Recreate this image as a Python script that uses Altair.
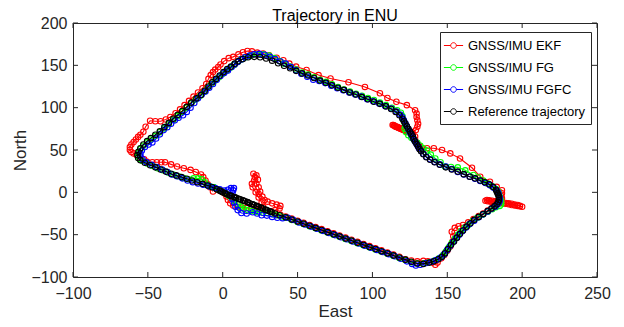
import altair as alt
import pandas as pd

title_text = "Trajectory in ENU"
series_names = ["GNSS/IMU EKF", "GNSS/IMU FG", "GNSS/IMU FGFC", "Reference trajectory"]
series_colors = ["#ff0000", "#00ff00", "#0000ff", "#000000"]
x_ticks = [-100, -50, 0, 50, 100, 150, 200, 250]
y_ticks = [-100, -50, 0, 50, 100, 150, 200]

ekf_pts = [(-4,4),(-1,1.5),(1,-1),(2.5,-5),(3.5,-9),(5,-13),(7,-15.5),(10,-17),(13,-18),(16,-18.5),(19,-19),(22,-19.5),(25,-20),(27,-17),(26,-12),(24,-6),(22,0),(20,6),(19.5,10),(21,14),(21.5,18),(20.5,22),(22.5,20),(23.5,15),(22.5,10),(24,6),(25,1),(24,-2),(26.5,-5),(28,-9),(30,-11),(33,-13),(36,-14.5),(38.5,-16),(38,-19),(35,-21),(32,-22.5),(35,-25),(38.5,-26.5),(42,-28.5),(46,-31),(50,-33.5),(54,-36),(58,-38.5),(62,-41),(66,-43.5),(70,-46),(74,-48.5),(78,-51),(82,-53.5),(86,-56),(90,-58.5),(94,-61),(98,-63.5),(102,-66),(106,-68.5),(110,-71),(114,-73.5),(118,-76),(122,-79),(126,-80.5),(130,-81.5),(134,-81),(137,-81.5),(140,-83),(142,-85.5),(143.5,-83),(146,-78),(148,-74),(150,-69),(152,-64),(153.5,-58),(154,-52),(153,-46.5),(155,-42),(157.5,-40),(160.5,-38.5),(164,-35.5),(167.5,-31.5),(171,-28),(174,-25),(177,-21.5),(180,-18.5),(182.5,-15),(184,-12),(182,-10.5),(180,-10),(178,-9.5),(176.5,-9),(175.5,-10),(177,-10.5),(179,-11),(181,-11.5),(183,-11.5),(185,-12),(187,-12.5),(189,-12.5),(191,-13),(193,-13.5),(195,-14.5),(197,-15),(198.5,-16),(200,-17),(198.5,-16.5),(197,-16),(195,-15.5),(193,-15),(191,-14),(189,-13.5),(187.5,-13),(186,-10),(186.5,-7),(186,-4),(186.5,-1),(186.5,2.5),(183,6.5),(178.5,12.5),(172,18.5),(166.5,29),(158.5,40),(152,46),(146.5,50),(141,52),(136.5,52),(131,55.5),(129.5,58.5),(128.5,62),(128.5,66),(127,69.5),(125,70.5),(123.5,71.5),(122.5,72.5),(121.5,73),(120.5,74),(119.5,74.5),(118.5,75.5),(117.5,76),(116.5,77),(115.5,77.5),(114.5,78.5),(113.5,79.5),(114,79.5),(115,78.5),(116,77.5),(117,77),(118,76),(119,75),(120,74.5),(121,73.5),(122,73),(123.5,71.5),(126.5,71),(129,73.5),(130,77.5),(130.5,81),(130,85),(129.5,89),(129.5,93),(128.5,97),(123,103),(116,107),(110,111.5),(105,117),(95,124.5),(84,130),(72,134.5),(64,138.5),(56,144.5),(49,148.5),(44.5,152),(40.5,156),(36,159),(31,162),(27,164),(23,165),(19.5,166.5),(16.5,167),(13.5,165.5),(10.5,163),(7,160),(4,158.5),(1,155),(-1.5,151),(-3,148),(-5,145),(-6.5,142),(-8,138.5),(-9.5,134),(-11,128),(-13.5,123),(-16.5,118),(-19.5,113),(-22.5,108),(-25.5,103),(-28.5,98),(-31.5,93.5),(-35,89),(-38,86),(-41.5,84),(-45,84),(-48.5,84.5),(-51.5,77.5),(-53,71.5),(-55,68),(-56.5,65.5),(-58,62.5),(-59.5,59.5),(-61,56.5),(-62,53.5),(-62,50),(-61,47.5),(-59.5,46),(-57.5,44),(-55,42),(-52.5,39),(-50.5,36),(-47,35.5),(-44,35.5),(-41,35.5),(-38.5,35.5),(-34.5,33),(-30.5,30.5),(-26,28.5),(-21.5,26.5),(-18,24),(-14.5,21),(-13,18),(-11.5,14),(-10,9.5),(-8.5,6),(-6.5,1)]

fg_pts = [(-6,6),(-3,3),(0,0.5),(2,-1.5),(4,-4),(6,-7),(8,-10.5),(10,-14),(12,-17),(14,-19.5),(16.5,-21),(19,-22),(21.5,-23),(24,-23.5),(27,-24),(30,-24.5),(33,-25.5),(36,-27),(39,-28.5),(42,-30),(46,-32.5),(50,-35),(54,-37.5),(58,-40),(62,-42.5),(66,-45),(70,-47.5),(74,-50),(78,-52.5),(82,-55),(86,-57.5),(90,-60),(94,-62.5),(98,-65),(102,-67.5),(106,-70),(110,-72.5),(114,-75),(118,-77.5),(122,-80),(126,-82.5),(130,-84),(134,-84),(138,-82.5),(141.5,-80.5),(144.5,-78),(147,-74.5),(149,-70),(151,-65),(153,-60),(155,-55),(157,-50),(159,-46),(161.5,-42),(164,-38.5),(167,-34),(170,-30),(173.5,-26.5),(177,-23),(180,-20),(182.5,-17.5),(185,-16),(186,-14),(186,-11),(185.5,-8),(185,-5),(184.5,-2),(184,1),(182.5,4),(180,7),(177,10.5),(174,14),(170.5,17.5),(167.5,20.5),(162,26),(157,29.5),(152.5,30),(148.5,30.5),(145.5,35.5),(142,40),(139,44.5),(136.5,49.5),(134,52),(132,55),(130,58.5),(128,61.5),(126,64.5),(124,67.5),(122.5,71),(121.5,75),(122,78),(121.5,82),(120.5,86),(120,90),(119,94),(116.5,97),(113,100),(109,103),(105,106),(101,109),(97,111.5),(93,114),(89,116.5),(85,119),(81,121.5),(77,124.5),(73,127.5),(69,130.5),(65,133),(61,136),(57,139),(53,141.5),(49,145),(45,148.5),(41,152),(38,155),(34.5,158.5),(31,161.5),(27,163),(23,163),(19,161.5),(15.5,159.5),(12.5,157),(10,154),(7.5,150.5),(5,147),(2.5,143.5),(0,140),(-2.5,136),(-5,132),(-7.5,128),(-10,123.5),(-12.5,118.5),(-15,114),(-18,109.5),(-21,105),(-24,100),(-27,95),(-30,90),(-33,85.5),(-36,80.5),(-39,75.5),(-42,71),(-45,66.5),(-48,62.5),(-50.5,59),(-53,55),(-55,51),(-56,47),(-56.5,43),(-55.5,39.5),(-53.5,37),(-50.5,34),(-47,31.5),(-43.5,28.5),(-40,26),(-36.5,23.5),(-33,21),(-29.5,19),(-26,17),(-23,15.5),(-19.5,16.5),(-16.5,16.5),(-14,15.5),(-12,12),(-10.5,9),(-8.5,7),(-6,6)]

fgfc_pts = [(-8,6.5),(-5,5),(-2,3.5),(1,2),(3.5,3),(5.5,5),(7.5,5),(7,2.5),(6.5,-1),(6,-4),(6.5,-8),(7.5,-12),(8.5,-17),(10,-21),(12.5,-24.5),(16,-25),(20,-23.5),(23,-25),(26,-27),(29.5,-27.5),(33,-29),(36.5,-30),(40,-30.5),(43.5,-30),(47,-32.5),(51,-35.5),(55,-38),(59,-40.5),(63,-43),(67,-45.5),(71,-48),(75,-50.5),(79,-53),(83,-55.5),(87,-58),(91,-60.5),(95,-63),(99,-65.5),(103,-68),(107,-70.5),(111,-73),(115,-75.5),(119,-78.5),(123,-81.5),(126.5,-84.5),(129,-86.5),(132,-85.5),(136,-83.5),(139.5,-82),(142.5,-80),(145.5,-77),(148,-73),(150,-68),(152,-63),(154,-58.5),(156,-54),(158,-50),(160,-46),(162.5,-41.5),(165,-37.5),(168,-33.5),(171,-29.5),(174,-26),(177,-22.5),(179.5,-19.5),(182,-17),(183.5,-14.5),(184.5,-12),(185,-9.5),(185,-6.5),(184.5,-3.5),(184,-0.5),(183,2.5),(181,5.5),(178.5,8.5),(175.5,11),(172,13.5),(168.5,16),(165,18.5),(161,21),(157,24),(153,27.5),(149,30.5),(145,33),(141.5,36),(138.5,39),(136,42),(134,45.5),(132.5,49),(131,52.5),(130,55.5),(129,58.5),(128,61.5),(127,64.5),(126,68),(125,71),(124,74.5),(123,78),(122,81.5),(121,85),(120,88.5),(118.5,92),(116,95.5),(112.5,99),(108.5,102),(104.5,105),(100.5,107.5),(96.5,110),(92.5,113),(88.5,115.5),(84.5,118),(80.5,120.5),(76.5,123),(72.5,126),(68.5,129),(64.5,131.5),(60.5,133),(56.5,136.5),(52.5,140),(49,144),(45.5,148),(42,152),(38.5,154.5),(35,157.5),(31.5,160),(28,162.5),(24.5,163.5),(21,163),(18,161.5),(15,159.5),(12.5,157),(10,154),(8,151),(6,148),(3.5,144),(1,141),(-1.5,137.5),(-4,133),(-6.5,128),(-9,123.5),(-11.5,119),(-14,115.5),(-16.5,111),(-19,105.5),(-21.5,100),(-24,95),(-26.5,91),(-29.5,88),(-32,85),(-34.5,81),(-37,77),(-39.5,73.5),(-42,68.5),(-44.5,63.5),(-47,59),(-49.5,56.5),(-52,53.5),(-54,49.5),(-55,46),(-55,42.5),(-53.5,39),(-51,35.5),(-47.5,32.5),(-44,30),(-40.5,27),(-37,24),(-34,21),(-30.5,19),(-27,16.5),(-23.5,14),(-20,12),(-16.5,10.5),(-13,9),(-9.5,7.5)]

ref_pts = [(-2,2),(0,0),(1.5,-1),(3,-2.5),(4.5,-3.5),(6,-4.5),(7.5,-5.5),(9,-6.5),(10.5,-7.5),(12,-8.5),(13.5,-9.5),(15,-10.5),(16.5,-11.5),(18,-13),(19.5,-14),(21,-15),(22.5,-16),(24,-17),(25.5,-18),(27,-19),(28.5,-20.5),(30,-21.5),(31.5,-22.5),(33,-23.5),(35,-25),(38,-27),(42,-29.5),(46,-32),(50,-34.5),(54,-37),(58,-39.5),(62,-42),(66,-44.5),(70,-47),(74,-49.5),(78,-52),(82,-54.5),(86,-57),(90,-59.5),(94,-62),(98,-64.5),(102,-67),(106,-69.5),(110,-72),(114,-74.5),(118,-77),(122,-79.5),(126,-82),(130,-84),(134,-84.5),(138,-83),(141,-81.5),(144,-79),(146.5,-76),(148.5,-72),(150.5,-67),(152.5,-62),(154.5,-58),(156.5,-53.5),(158.5,-49),(160.5,-45),(163,-40.5),(165.5,-36.5),(168,-32.5),(171,-29),(174,-25.5),(177,-22),(179.5,-19),(181.5,-16.5),(183,-14),(184,-11.5),(184.5,-9),(184.5,-7),(184.5,-5),(184,-3),(183.5,-1),(183,1),(182.5,3),(180.5,6.5),(178,9.5),(175,12),(172,14),(168.5,16.5),(165,18.5),(161,21.5),(157,24.5),(153,27),(149,29.5),(145,32.5),(141.5,35.5),(138.5,38.5),(136,41.5),(134,45),(132.5,48.5),(131.5,51),(130.5,54),(129.5,57),(128.5,60),(127.5,63),(127,66),(126,69),(125,72),(124,75),(123,78),(122,81),(121,84),(120,87),(118,91),(115.5,95),(112.5,98.5),(109,101.5),(105,104.5),(101,107),(97,110),(93,112.5),(89,115.5),(85,118),(81,121),(77,123.5),(73,126.5),(69,129.5),(65,132),(61,135),(57,138),(53,140.5),(49,143.5),(45,146.5),(41,149.5),(37,152.5),(33,155.5),(29,158),(25,159.5),(21,160),(17,159.5),(13.5,157.5),(10.5,155),(8,152),(5.5,148.5),(3,145.5),(0.5,142),(-2,138),(-4.5,134),(-7,130),(-9.5,125),(-12,120),(-14.5,115),(-17.5,111),(-21,106),(-24,101),(-27,96),(-30,91.5),(-33,87),(-36,82),(-39,77),(-42,72),(-45,68),(-48,64),(-50.5,60.5),(-53,56.5),(-55,52),(-56.3,48),(-57,44),(-56.5,40.5),(-55,38),(-52,35),(-48.5,32),(-45,29.5),(-41.5,27),(-38,24.5),(-34.5,22),(-31,20),(-27.5,18),(-24,16),(-20.5,14),(-17,12),(-13.5,10),(-10,8),(-7,6),(-4,3.5),(-1,1),(2,-1.5),(5,-4),(8,-6),(11,-8),(14,-10),(17,-12),(20,-14),(23,-16.5),(26,-18.5),(29,-20.5),(32,-23)]

all_pts = [ekf_pts, fg_pts, fgfc_pts, ref_pts]
rows = []
for name, pts in zip(series_names, all_pts):
    for i, (e, n) in enumerate(pts):
        rows.append({"east": e, "north": n, "series": name, "i": i})
df = pd.DataFrame(rows)

W, H = 524, 254
FONT = "Liberation Sans"
TXT = "#262626"

xs = alt.Scale(domain=[-100, 250], nice=False, zero=False)
ys = alt.Scale(domain=[-100, 200], nice=False, zero=False)
xaxis = alt.Axis(values=x_ticks, title="East", labelPadding=8, titleX=W / 2, titleY=39,
                 titleBaseline="alphabetic", labelFlush=False)
yaxis = alt.Axis(values=y_ticks, title="North", labelPadding=6, titleX=-48, titleY=H / 2,
                 titleBaseline="alphabetic", labelFlush=False)

sym = "M-1.2,0L-0.35,0M0.35,0L1.2,0M0.35,0A0.35,0.35,0,1,1,-0.35,0A0.35,0.35,0,1,1,0.35,0"
legend = alt.Legend(title=None, orient="none", legendX=367, legendY=9, padding=5,
                    rowPadding=6, strokeColor="#262626", fillColor="white",
                    symbolType=sym, symbolSize=256, symbolStrokeWidth=1,
                    labelFont=FONT, labelFontSize=13, labelColor="#000000", labelOffset=6)
color = alt.Color("series:N", scale=alt.Scale(domain=series_names, range=series_colors),
                  legend=legend)

layers = []
for name in series_names:
    base = alt.Chart(df).transform_filter(alt.datum.series == name).encode(
        x=alt.X("east:Q", scale=xs, axis=xaxis),
        y=alt.Y("north:Q", scale=ys, axis=yaxis),
        color=color,
        order=alt.Order("i:Q"),
    )
    layers.append(base.mark_line(strokeWidth=1.1))
    layers.append(base.mark_point(filled=False, size=30, strokeWidth=1.1, opacity=1))

xt = pd.DataFrame({"t": x_ticks})
yt = pd.DataFrame({"t": y_ticks})
tick_b = alt.Chart(xt).mark_rule(color=TXT).encode(
    x=alt.X("t:Q", scale=xs, axis=xaxis), y=alt.value(H), y2=alt.value(H - 5))
tick_t = alt.Chart(xt).mark_rule(color=TXT).encode(
    x=alt.X("t:Q", scale=xs, axis=xaxis), y=alt.value(0), y2=alt.value(5))
tick_l = alt.Chart(yt).mark_rule(color=TXT).encode(
    y=alt.Y("t:Q", scale=ys, axis=yaxis), x=alt.value(0), x2=alt.value(5))
tick_r = alt.Chart(yt).mark_rule(color=TXT).encode(
    y=alt.Y("t:Q", scale=ys, axis=yaxis), x=alt.value(W - 5), x2=alt.value(W))

title_df = pd.DataFrame({"label": [title_text]})
title_mark = alt.Chart(title_df).mark_text(
    font=FONT, fontSize=16, baseline="alphabetic", align="center", color="#000000"
).encode(text="label:N", x=alt.value(W / 2), y=alt.value(-2.5))

chart = alt.layer(tick_b, tick_t, tick_l, tick_r, *layers, title_mark).properties(
    width=W, height=H,
    padding={"left": 65, "top": 15, "right": 19, "bottom": 42},
    autosize=alt.AutoSizeParams(type="none"),
).configure_view(stroke=TXT, strokeWidth=1).configure_axis(
    grid=False, ticks=False, domain=False, labelFont=FONT, labelFontSize=16,
    labelColor=TXT, titleFont=FONT, titleFontSize=17, titleFontWeight="normal",
    titleColor=TXT,
)

chart.save("out.html", embed_options={"renderer": "svg", "actions": False})
